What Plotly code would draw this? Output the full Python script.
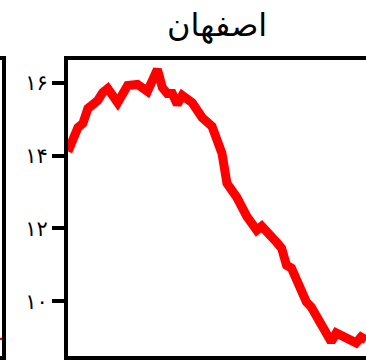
import plotly.graph_objects as go

# Isfahan series (yearly values)
years = [1960, 1961, 1962, 1963, 1964, 1965, 1966, 1967, 1968, 1970, 1972,
         1974, 1976, 1978, 1979, 1980, 1981, 1982, 1983, 1985, 1987, 1989,
         1991, 1992, 1994, 1996, 1998, 1999, 2001, 2002, 2003, 2004, 2005,
         2007, 2008, 2009, 2013, 2014, 2016, 2018, 2019, 2020]
values = [14.11, 14.47, 14.77, 14.88, 15.29, 15.40, 15.51, 15.73, 15.84, 15.45, 15.92,
          15.95, 15.76, 16.36, 15.86, 15.70, 15.70, 15.40, 15.65, 15.45, 15.04, 14.80,
          14.06, 13.24, 12.85, 12.33, 11.95, 12.06, 11.81, 11.62, 11.46, 10.99, 10.91,
          10.23, 9.98, 9.84, 8.89, 9.13, 9.02, 8.86, 9.02, 8.94]

# neighbouring panel (only its last stretch falls inside the view)
prev_years = [2019, 2020]
prev_values = [9.00, 8.94]

tick_vals = [10, 12, 14, 16]
tick_text = ["۱۰", "۱۲", "۱۴", "۱۶"]
title_text = "اصفهان"

W, H = 366, 362
x0 = 68 / W
y_dom = [(H - 356) / H, (H - 60) / H]
y_range = [8.5, 16.62]

fig = go.Figure()
fig.add_trace(go.Scatter(x=years, y=values, mode="lines",
                         line=dict(color="#ff0000", width=9),
                         xaxis="x", yaxis="y", showlegend=False))
fig.add_trace(go.Scatter(x=prev_years, y=prev_values, mode="lines",
                         line=dict(color="#ff0000", width=9),
                         xaxis="x2", yaxis="y2", showlegend=False))

fig.update_layout(
    width=W, height=H, autosize=False,
    margin=dict(l=0, r=0, t=0, b=0),
    paper_bgcolor="white", plot_bgcolor="white",
    font=dict(family="DejaVu Sans", color="black"),
    xaxis=dict(domain=[x0, 1], range=[1960, 2020], showgrid=False,
               zeroline=False, showticklabels=False, ticks="",
               showline=True, linecolor="black", linewidth=4, mirror=True),
    yaxis=dict(domain=y_dom, range=y_range, showgrid=False, zeroline=False,
               tickvals=tick_vals, ticktext=tick_text, ticks="outside",
               ticklen=12, tickwidth=4, tickcolor="black",
               tickfont=dict(size=21, family="DejaVu Sans", color="black"),
               showline=True, linecolor="black", linewidth=4, mirror=False),
    xaxis2=dict(domain=[0, 2 / W], range=[1960, 2020], showgrid=False,
                zeroline=False, showticklabels=False, ticks="",
                showline=True, linecolor="black", linewidth=4, mirror=True,
                anchor="y2"),
    yaxis2=dict(domain=y_dom, range=y_range, showgrid=False, zeroline=False,
                showticklabels=False, ticks="", side="right",
                showline=True, linecolor="black", linewidth=4, anchor="x2"),
    annotations=[dict(text=title_text, x=(x0 + 1) / 2, y=1 - 25 / H,
                      xref="paper", yref="paper", xanchor="center",
                      yanchor="middle", showarrow=False,
                      font=dict(size=32, family="DejaVu Sans", color="black"))],
)

fig.write_html("out.html")
